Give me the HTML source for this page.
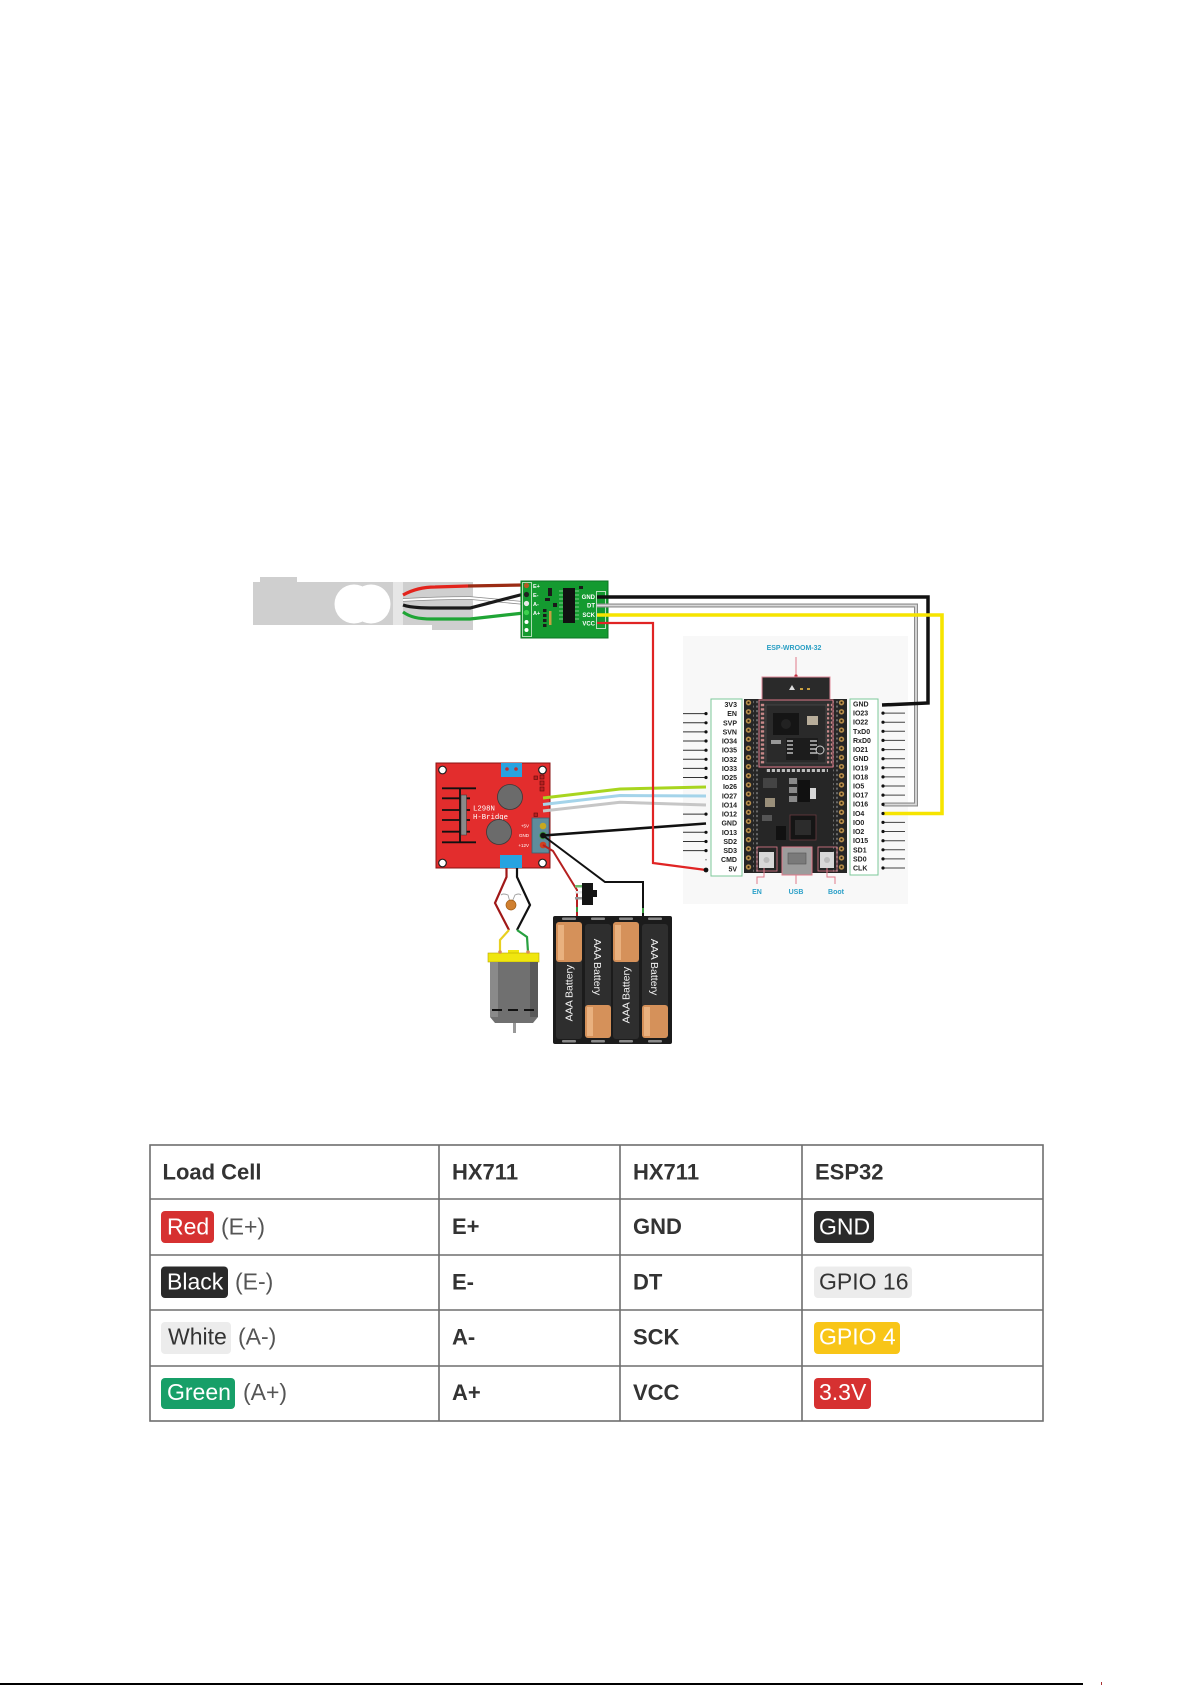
<!DOCTYPE html>
<html><head><meta charset="utf-8"><title>Load cell / HX711 / ESP32 wiring</title>
<style>
html,body{margin:0;padding:0;background:#fff}
body{width:1192px;height:1685px;position:relative;overflow:hidden}
svg{position:absolute;left:0;top:0;font-family:"Liberation Sans",Arial,sans-serif}
</style></head><body>
<svg width="1192" height="1685" viewBox="0 0 1192 1685" xmlns="http://www.w3.org/2000/svg">
<defs>
 <pattern id="padL" x="744.5" y="698.1" width="8" height="9.13" patternUnits="userSpaceOnUse">
  <circle cx="4" cy="4.6" r="2.7" fill="#b98f4a"/><circle cx="4" cy="4.6" r="1.1" fill="#2a2010"/>
 </pattern>
 <pattern id="padR" x="837.5" y="698.1" width="8" height="9.13" patternUnits="userSpaceOnUse">
  <circle cx="4" cy="4.6" r="2.7" fill="#b98f4a"/><circle cx="4" cy="4.6" r="1.1" fill="#2a2010"/>
 </pattern>
 <pattern id="smc" x="0" y="700" width="5" height="4.56" patternUnits="userSpaceOnUse">
  <rect x="1" y="1" width="3" height="2" fill="#6a6a6a"/>
 </pattern>
 <pattern id="mpad" x="0" y="703" width="5" height="4.4" patternUnits="userSpaceOnUse">
  <rect x="0.8" y="0.8" width="3.4" height="2.4" fill="#c98a8a"/>
 </pattern>
 <pattern id="bpad" x="766" y="0" width="5" height="6" patternUnits="userSpaceOnUse">
  <rect x="0.8" y="0" width="3.2" height="4" fill="#bdbdbd"/>
 </pattern>
</defs>

<!-- ========== LOAD CELL ========== -->
<rect x="260" y="577" width="37" height="6" fill="#cfcfcf"/>
<rect x="253" y="582" width="220" height="43" fill="#cfcfcf"/>
<rect x="432" y="620" width="41" height="10" fill="#cfcfcf"/>
<rect x="393" y="582" width="10" height="43" fill="#e6e6e6"/>
<circle cx="354" cy="604" r="19.5" fill="#fff"/>
<circle cx="371" cy="604" r="19.5" fill="#fff"/>

<!-- load cell wires -->
<path d="M403,600 C420,599 440,598 470,598 L524,603" fill="none" stroke="#8c8c8c" stroke-width="3.6"/>
<path d="M403,600 C420,599 440,598 470,598 L524,603" fill="none" stroke="#ffffff" stroke-width="2"/>
<path d="M403,605 C412,608 425,608 440,608 L470,608 L524,594" fill="none" stroke="#1a1a1a" stroke-width="3.2"/>
<path d="M403,612 C410,617 418,619 432,619 L470,619 L524,613" fill="none" stroke="#1fa535" stroke-width="3.2"/>
<path d="M403,595 C412,590 422,587 435,587 L468,586" fill="none" stroke="#e3231c" stroke-width="3.2"/>
<path d="M468,586 L523,585" fill="none" stroke="#9b2b14" stroke-width="3.2"/>

<!-- ========== HX711 ========== -->
<rect x="521" y="581" width="87" height="57" fill="#149a30" stroke="#0d7424" stroke-width="1"/>
<rect x="522.5" y="582.5" width="9" height="54" fill="none" stroke="#d6efd6" stroke-width="0.8"/>
<circle cx="526.5" cy="585.5" r="2.6" fill="#b25a22"/>
<circle cx="526.5" cy="594.5" r="2.6" fill="#222"/>
<circle cx="526.5" cy="603.5" r="2.6" fill="#e8e8e8"/>
<circle cx="526.5" cy="612.5" r="2.6" fill="#3ed04e"/>
<circle cx="526.5" cy="622" r="2" fill="#fff"/>
<circle cx="526.5" cy="630" r="2" fill="#fff"/>
<g fill="#fff" font-size="5.5" font-weight="bold">
 <text x="533" y="588">E+</text><text x="533" y="597">E-</text>
 <text x="533" y="606">A-</text><text x="533" y="615">A+</text>
</g>
<rect x="548" y="588" width="4" height="8" fill="#1a1a1a"/>
<rect x="545" y="598" width="5" height="3" fill="#1a1a1a"/>
<rect x="553" y="603" width="4" height="4" fill="#1a1a1a"/>
<rect x="543" y="609" width="3.5" height="3" fill="#1a1a1a"/>
<rect x="543" y="614" width="3.5" height="3" fill="#1a1a1a"/>
<rect x="543" y="619" width="3.5" height="3" fill="#1a1a1a"/>
<rect x="543" y="624" width="3.5" height="3" fill="#1a1a1a"/>
<rect x="549" y="611" width="2.5" height="14" fill="#c9a040"/>
<rect x="563" y="588" width="12" height="35" fill="#111"/>
<path d="M559,591h4M559,595h4M559,599h4M559,603h4M559,607h4M559,611h4M559,615h4M559,619h4M575,591h4M575,595h4M575,599h4M575,603h4M575,607h4M575,611h4M575,615h4M575,619h4" stroke="#7fcf8c" stroke-width="1"/>
<rect x="579" y="586" width="4" height="3" fill="#1a1a1a"/>
<rect x="596.5" y="591.5" width="9" height="37" fill="none" stroke="#e3f3e3" stroke-width="0.8"/>
<g fill="#fff" font-size="6" font-weight="bold" text-anchor="end">
 <text x="595" y="599">GND</text><text x="595" y="607.5">DT</text>
 <text x="595" y="617">SCK</text><text x="595" y="625.5">VCC</text>
</g>

<!-- ========== ESP32 background ========== -->
<rect x="683" y="636" width="225" height="268" fill="#f8f8f8"/>

<!-- HX711 -> ESP wires -->
<path d="M597,605.5 L916,605.5 L916,804.5 L883,804.5" fill="none" stroke="#8a8a8a" stroke-width="4"/>
<path d="M597,605.5 L916,605.5 L916,804.5 L883,804.5" fill="none" stroke="#dadada" stroke-width="1.8"/>
<path d="M597,597 L928,597 L928,703 L882,705" fill="none" stroke="#111" stroke-width="3.5"/>
<path d="M597,615 L942,615 L942,813.5 L883,813.5" fill="none" stroke="#f6e400" stroke-width="3.6"/>

<!-- ========== ESP32 board ========== -->
<text x="794" y="650" text-anchor="middle" font-size="7" font-weight="bold" fill="#2b9fc4">ESP-WROOM-32</text>
<path d="M796,657 L796,677" stroke="#e07a8a" stroke-width="1"/>
<circle cx="796" cy="676" r="1.6" fill="#c03040"/>
<rect x="762" y="677" width="68" height="23" fill="#2a2a2a"/>
<path d="M762,700 L762,677 L830,677 L830,700" fill="none" stroke="#e08a9a" stroke-width="1"/>
<path d="M792,685 L795,690 L789,690 Z" fill="#ddd"/>
<rect x="800" y="688" width="3" height="2" fill="#c9a040"/><rect x="807" y="688" width="3" height="2" fill="#c9a040"/>
<rect x="744" y="699" width="103" height="174" fill="#262626"/>
<rect x="744.5" y="698.1" width="8" height="175" fill="url(#padL)"/>
<rect x="837.5" y="698.1" width="8" height="175" fill="url(#padR)"/>
<rect x="753" y="700" width="5" height="172" fill="url(#smc)"/>
<rect x="833" y="700" width="5" height="172" fill="url(#smc)"/>
<!-- module -->
<rect x="759" y="700" width="74" height="67" fill="#303030" stroke="#e07a8a" stroke-width="1"/>
<rect x="760" y="703" width="5" height="62" fill="url(#mpad)"/>
<rect x="827" y="703" width="5" height="62" fill="url(#mpad)"/>
<rect x="766" y="705" width="60" height="58" fill="#2a2a2a" stroke="#4a4a4a" stroke-width="0.8"/>
<rect x="773" y="713" width="26" height="22" fill="#151515"/>
<circle cx="786" cy="724" r="5" fill="#222"/>
<rect x="807" y="716" width="11" height="9" fill="#b8ad9a"/>
<rect x="771" y="740" width="10" height="4" fill="#999"/>
<rect x="786" y="738" width="32" height="22" fill="#1c1c1c"/>
<path d="M810,741h7M810,745h7M810,749h7M810,753h7M787,741h6M787,745h6M787,749h6M787,753h6" stroke="#bbb" stroke-width="1.4"/>
<circle cx="820" cy="750" r="4" fill="none" stroke="#ccc" stroke-width="1"/>
<rect x="766" y="769" width="62" height="4" fill="url(#bpad)"/>
<!-- mid components -->
<rect x="763" y="778" width="14" height="10" fill="#444"/>
<rect x="789" y="778" width="8" height="6" fill="#8a8a8a"/>
<rect x="789" y="787" width="8" height="6" fill="#8a8a8a"/>
<rect x="789" y="796" width="8" height="6" fill="#8a8a8a"/>
<rect x="798" y="780" width="12" height="22" fill="#111"/>
<rect x="810" y="788" width="6" height="11" fill="#d8d8d8"/>
<rect x="765" y="798" width="10" height="9" fill="#9a8f7a"/>
<rect x="762" y="815" width="10" height="6" fill="#555"/>
<rect x="776" y="826" width="10" height="14" fill="#111"/>
<rect x="790" y="815" width="26" height="25" fill="#151515" stroke="#6a3a40" stroke-width="0.8"/>
<rect x="795" y="820" width="16" height="15" fill="#2c2c2c"/>
<!-- buttons / usb -->
<rect x="757" y="847" width="20" height="24" fill="none" stroke="#e07a8a" stroke-width="0.8"/>
<rect x="759" y="852" width="15" height="16" fill="#d8d8d8"/>
<circle cx="766.5" cy="860" r="3" fill="#bcbcbc"/>
<rect x="782" y="847" width="30" height="28" fill="#9c9c9c" stroke="#e07a8a" stroke-width="1"/>
<rect x="788" y="853" width="18" height="11" fill="#7a7a7a" stroke="#555" stroke-width="0.6"/>
<rect x="818" y="847" width="19" height="24" fill="none" stroke="#e07a8a" stroke-width="0.8"/>
<rect x="820" y="852" width="14" height="16" fill="#d8d8d8"/>
<circle cx="827" cy="860" r="3" fill="#bcbcbc"/>
<path d="M764,868 L764,877 L757,877 L757,884 M796,875 L796,884 M827,868 L827,877 L835,877 L835,884" fill="none" stroke="#e07a8a" stroke-width="1"/>
<g font-size="7" font-weight="bold" fill="#2ba0c8" text-anchor="middle">
 <text x="757" y="894">EN</text><text x="796" y="894">USB</text><text x="836" y="894">Boot</text>
</g>

<!-- label boxes -->
<rect x="711" y="699" width="31" height="177" fill="#fff" stroke="#7cc89a" stroke-width="1"/>
<rect x="850" y="699" width="28" height="176" fill="#fff" stroke="#7cc89a" stroke-width="1"/>
<g font-size="7" font-weight="bold" fill="#222" text-anchor="end">
 <text x="737" y="707">3V3</text><text x="737" y="716.1">EN</text><text x="737" y="725.3">SVP</text>
 <text x="737" y="734.4">SVN</text><text x="737" y="743.5">IO34</text><text x="737" y="752.7">IO35</text>
 <text x="737" y="761.8">IO32</text><text x="737" y="770.9">IO33</text><text x="737" y="780">IO25</text>
 <text x="737" y="789.2">Io26</text><text x="737" y="798.3">IO27</text><text x="737" y="807.4">IO14</text>
 <text x="737" y="816.6">IO12</text><text x="737" y="825.7">GND</text><text x="737" y="834.8">IO13</text>
 <text x="737" y="844">SD2</text><text x="737" y="853.1">SD3</text><text x="737" y="862.2">CMD</text>
 <text x="737" y="871.3">5V</text>
</g>
<g font-size="7" font-weight="bold" fill="#222">
 <text x="853" y="706.5">GND</text><text x="853" y="715.6">IO23</text><text x="853" y="724.7">IO22</text>
 <text x="853" y="733.8">TxD0</text><text x="853" y="742.9">RxD0</text><text x="853" y="752.1">IO21</text>
 <text x="853" y="761.2">GND</text><text x="853" y="770.3">IO19</text><text x="853" y="779.4">IO18</text>
 <text x="853" y="788.5">IO5</text><text x="853" y="797.6">IO17</text><text x="853" y="806.7">IO16</text>
 <text x="853" y="815.8">IO4</text><text x="853" y="824.9">IO0</text><text x="853" y="834">IO2</text>
 <text x="853" y="843.2">IO15</text><text x="853" y="852.3">SD1</text><text x="853" y="861.4">SD0</text>
 <text x="853" y="870.5">CLK</text>
</g>
<!-- pin lines left -->
<path d="M683,713.6H706M683,722.8H706M683,731.9H706M683,741H706M683,750.2H706M683,759.3H706M683,768.4H706M683,777.5H706M683,814.1H706M683,832.3H706M683,841.5H706M683,850.6H706" stroke="#333" stroke-width="1"/>
<g fill="#111">
 <circle cx="706" cy="713.6" r="1.6"/><circle cx="706" cy="722.8" r="1.6"/><circle cx="706" cy="731.9" r="1.6"/>
 <circle cx="706" cy="741" r="1.6"/><circle cx="706" cy="750.2" r="1.6"/><circle cx="706" cy="759.3" r="1.6"/>
 <circle cx="706" cy="768.4" r="1.6"/><circle cx="706" cy="777.5" r="1.6"/><circle cx="706" cy="814.1" r="1.6"/>
 <circle cx="706" cy="832.3" r="1.6"/><circle cx="706" cy="841.5" r="1.6"/><circle cx="706" cy="850.6" r="1.6"/>
 <circle cx="706" cy="859.7" r="0.8" fill="#888"/>
</g>
<!-- pin lines right -->
<path d="M883,713.1H905M883,722.2H905M883,731.3H905M883,740.4H905M883,749.6H905M883,758.7H905M883,767.8H905M883,776.9H905M883,786H905M883,795.1H905M883,822.4H905M883,831.5H905M883,840.7H905M883,849.8H905M883,858.9H905M883,868H905" stroke="#444" stroke-width="1"/>
<g fill="#111">
 <circle cx="883" cy="713.1" r="1.6"/><circle cx="883" cy="722.2" r="1.6"/><circle cx="883" cy="731.3" r="1.6"/>
 <circle cx="883" cy="740.4" r="1.6"/><circle cx="883" cy="749.6" r="1.6"/><circle cx="883" cy="758.7" r="1.6"/>
 <circle cx="883" cy="767.8" r="1.6"/><circle cx="883" cy="776.9" r="1.6"/><circle cx="883" cy="786" r="1.6"/>
 <circle cx="883" cy="795.1" r="1.6"/><circle cx="883" cy="804.4" r="1.6"/><circle cx="883" cy="813.5" r="1.6"/>
 <circle cx="883" cy="822.4" r="1.6"/><circle cx="883" cy="831.5" r="1.6"/><circle cx="883" cy="840.7" r="1.6"/>
 <circle cx="883" cy="849.8" r="1.6"/><circle cx="883" cy="858.9" r="1.6"/><circle cx="883" cy="868" r="1.6"/>
</g>

<!-- ========== L298N ========== -->
<rect x="436" y="763" width="114" height="105" fill="#e32d2d" stroke="#8a1414" stroke-width="1"/>
<g fill="#fff" stroke="#222" stroke-width="1.2">
 <circle cx="442.5" cy="770" r="3.8"/><circle cx="542.5" cy="770" r="3.8"/>
 <circle cx="442.5" cy="863" r="3.8"/><circle cx="542.5" cy="863" r="3.8"/>
</g>
<rect x="501" y="763" width="21" height="14" fill="#27a3e0"/>
<circle cx="507" cy="769" r="1.8" fill="#c03030"/><circle cx="516" cy="769" r="1.8" fill="#c03030"/>
<path d="M442,788.3H476M442,798.3H460M442,810H460M442,820H460M442,831.7H460M442,842.3H476M460,788V843M466,798.3H470M466,810H470M466,820H470M466,831.7H470" stroke="#111" stroke-width="1.8"/>
<rect x="461" y="795" width="5.5" height="40" fill="#8a8a8a" stroke="#333" stroke-width="0.5"/>
<g font-family="'Liberation Mono',monospace" font-size="7.3" fill="#fff">
 <text x="473" y="810.5">L298N</text><text x="473" y="819">H-Bridge</text>
</g>
<circle cx="510" cy="797" r="12.5" fill="#6b6b6b" stroke="#3a3a3a" stroke-width="0.8"/>
<circle cx="499" cy="832" r="12.5" fill="#6b6b6b" stroke="#3a3a3a" stroke-width="0.8"/>
<g fill="#b82020" stroke="#5a0a0a" stroke-width="0.6">
 <rect x="540" y="775" width="4" height="4"/><rect x="540" y="781" width="4" height="4"/>
 <rect x="540" y="787" width="4" height="4"/><rect x="534" y="776" width="3.5" height="3.5"/>
 <rect x="534" y="813" width="3.5" height="3.5"/>
</g>
<g fill="#fff" font-size="4.5" text-anchor="end">
 <text x="529" y="827.5">+5V</text><text x="529" y="837">GND</text><text x="529" y="847">+12V</text>
</g>
<rect x="532" y="818" width="17" height="35" fill="#5f8c9c" stroke="#3d6070" stroke-width="0.8"/>
<circle cx="543" cy="826" r="3.3" fill="#c8a820"/>
<circle cx="543" cy="835.5" r="3.3" fill="#111" stroke="#3a9a40" stroke-width="0.8"/>
<circle cx="543" cy="845" r="3.3" fill="#d04020"/>
<rect x="500" y="855" width="22" height="13" fill="#27a3e0"/>

<!-- L298N -> ESP wires -->
<path d="M543,798 L620,789 L706,787" fill="none" stroke="#a8d51f" stroke-width="3"/>
<path d="M543,804.5 L620,795.5 L706,796" fill="none" stroke="#a4d4ea" stroke-width="3"/>
<path d="M543,811 L620,802.3 L706,805" fill="none" stroke="#c6c6c6" stroke-width="3"/>
<path d="M543,835.5 L706,823.5" fill="none" stroke="#111" stroke-width="2.6"/>
<path d="M543,835.5 L605,882 L643,882 L643,917" fill="none" stroke="#111" stroke-width="2"/>
<path d="M643,908 L643,913" stroke="#3a9a40" stroke-width="2"/>

<!-- ESP red wire (on top) -->
<path d="M597,623 L653,623 L653,863 L706,870" fill="none" stroke="#e02424" stroke-width="2.2"/>
<circle cx="706" cy="870" r="2.4" fill="#111"/>

<!-- battery red wire + switch -->
<path d="M543,845 L553,851 L572,882 L577,890 L577,917" fill="none" stroke="#b52020" stroke-width="2"/>
<rect x="575" y="885" width="7" height="2.5" fill="#6fbf70"/>
<rect x="575" y="891" width="7" height="2.5" fill="#e8e8e8"/>
<rect x="575" y="897" width="7" height="2.5" fill="#9a9a9a"/>
<path d="M577,907 L577,912" stroke="#3a9a40" stroke-width="2"/>
<rect x="582" y="883" width="11" height="22" fill="#151515"/>
<rect x="593" y="890" width="4" height="7" fill="#151515"/>

<!-- motor wires -->
<path d="M506.5,868 L506.5,877 L495,903 L509,930" fill="none" stroke="#a01818" stroke-width="2.2"/>
<path d="M509,930 L500,940 L500,952" fill="none" stroke="#e8d020" stroke-width="2.2"/>
<path d="M517,868 L517,877 L530,905 L517,930" fill="none" stroke="#111" stroke-width="2.2"/>
<path d="M517,930 L527,937 L528,952" fill="none" stroke="#28a040" stroke-width="2.2"/>
<path d="M501,895 Q503,893 508,895 L510,902 M521,895 Q519,893 515,895 L512,902" fill="none" stroke="#a0a0a0" stroke-width="0.9"/>
<circle cx="511" cy="905" r="5" fill="#d08030" stroke="#a05a10" stroke-width="0.7"/>

<!-- motor -->
<rect x="508" y="950" width="11" height="4" fill="#f0e60f"/>
<rect x="488" y="953" width="51" height="9" fill="#f0e60f" stroke="#b8a800" stroke-width="0.6"/>
<circle cx="500" cy="952" r="1.8" fill="#d9895a"/><circle cx="528" cy="952" r="1.8" fill="#d9895a"/>
<path d="M490,962 L538,962 L538,1017 L533,1023 L495,1023 L490,1017 Z" fill="#707070"/>
<rect x="490" y="962" width="8" height="55" fill="#8a8a8a"/>
<rect x="530" y="962" width="8" height="55" fill="#5a5a5a"/>
<path d="M492,1010H502M508,1010H518M524,1010H534" stroke="#111" stroke-width="2"/>
<rect x="513" y="1023" width="3" height="10" fill="#999"/>

<!-- battery holder -->
<rect x="553" y="916" width="119" height="128" rx="2" fill="#1b1b1b"/>
<g fill="#8a8a8a">
 <rect x="562" y="917.5" width="14" height="2.5" rx="1"/><rect x="591" y="917.5" width="14" height="2.5" rx="1"/>
 <rect x="619" y="917.5" width="14" height="2.5" rx="1"/><rect x="648" y="917.5" width="14" height="2.5" rx="1"/>
 <rect x="562" y="1040" width="14" height="2.5" rx="1"/><rect x="591" y="1040" width="14" height="2.5" rx="1"/>
 <rect x="619" y="1040" width="14" height="2.5" rx="1"/><rect x="648" y="1040" width="14" height="2.5" rx="1"/>
</g>
<!-- batt 1 -->
<rect x="556" y="922" width="26" height="117" rx="3" fill="#2e2e2e"/>
<rect x="556" y="922" width="26" height="40" rx="3" fill="#d5915a"/>
<rect x="558" y="925" width="6" height="35" fill="#e9b17f"/>
<!-- batt 2 -->
<rect x="585" y="924" width="26" height="114" rx="3" fill="#2e2e2e"/>
<rect x="585" y="1005" width="26" height="33" rx="3" fill="#d5915a"/>
<rect x="587" y="1007" width="6" height="29" fill="#e9b17f"/>
<!-- batt 3 -->
<rect x="613" y="922" width="26" height="117" rx="3" fill="#2e2e2e"/>
<rect x="613" y="922" width="26" height="40" rx="3" fill="#d5915a"/>
<rect x="615" y="925" width="6" height="35" fill="#e9b17f"/>
<!-- batt 4 -->
<rect x="642" y="924" width="26" height="114" rx="3" fill="#2e2e2e"/>
<rect x="642" y="1005" width="26" height="33" rx="3" fill="#d5915a"/>
<rect x="644" y="1007" width="6" height="29" fill="#e9b17f"/>
<g font-size="10.5" fill="#f2f2f2" text-anchor="middle">
 <text transform="translate(572.5,993) rotate(-90)">AAA Battery</text>
 <text transform="translate(594,967) rotate(90)">AAA Battery</text>
 <text transform="translate(629.5,995) rotate(-90)">AAA Battery</text>
 <text transform="translate(651,967) rotate(90)">AAA Battery</text>
</g>

<!-- ========== TABLE ========== -->
<g stroke="#6e6e6e" stroke-width="1.6" fill="none">
 <rect x="150" y="1145" width="893" height="276"/>
 <path d="M150,1199H1043M150,1255H1043M150,1310H1043M150,1366H1043M439,1145V1421M620,1145V1421M802,1145V1421"/>
</g>
<g font-size="22" font-weight="bold" fill="#333">
 <text x="162.5" y="1179.5">Load Cell</text>
 <text x="452" y="1179.5">HX711</text>
 <text x="633" y="1179.5">HX711</text>
 <text x="815" y="1179.5">ESP32</text>
 <text x="452" y="1234">E+</text><text x="452" y="1289.5">E-</text>
 <text x="452" y="1344.5">A-</text><text x="452" y="1400">A+</text>
 <text x="633" y="1234">GND</text><text x="633" y="1289.5">DT</text>
 <text x="633" y="1344.5">SCK</text><text x="633" y="1400">VCC</text>
</g>
<rect x="161" y="1211" width="53" height="32" rx="4" fill="#d63131"/>
<rect x="161" y="1266.5" width="67" height="31.5" rx="4" fill="#2a2a2a"/>
<rect x="161" y="1322" width="70" height="32" rx="4" fill="#ececec"/>
<rect x="161" y="1378" width="74" height="31" rx="4" fill="#179f68"/>
<rect x="814" y="1211" width="60" height="32" rx="4" fill="#2a2a2a"/>
<rect x="814" y="1266.5" width="98" height="31.5" rx="4" fill="#ececec"/>
<rect x="814" y="1322" width="86" height="32" rx="4" fill="#f8c517"/>
<rect x="814" y="1378" width="57" height="31" rx="4" fill="#d63131"/>
<g font-size="23">
 <text x="167" y="1234.5" fill="#fff">Red</text>
 <text x="221" y="1234.5" fill="#555">(E+)</text>
 <text x="167" y="1289.5" fill="#fff">Black</text>
 <text x="235" y="1289.5" fill="#555">(E-)</text>
 <text x="168" y="1344.5" fill="#333">White</text>
 <text x="238" y="1344.5" fill="#555">(A-)</text>
 <text x="167" y="1400" fill="#fff">Green</text>
 <text x="243" y="1400" fill="#555">(A+)</text>
 <text x="819" y="1234.5" fill="#fff">GND</text>
 <text x="819" y="1289.5" fill="#333">GPIO 16</text>
 <text x="819" y="1344.5" fill="#fff">GPIO 4</text>
 <text x="819" y="1400" fill="#fff">3.3V</text>
</g>

<!-- bottom rule -->
<rect x="0" y="1683" width="1083" height="2" fill="#000"/>
<rect x="1101" y="1682" width="1" height="3" fill="#a33"/>
</svg>
</body></html>
